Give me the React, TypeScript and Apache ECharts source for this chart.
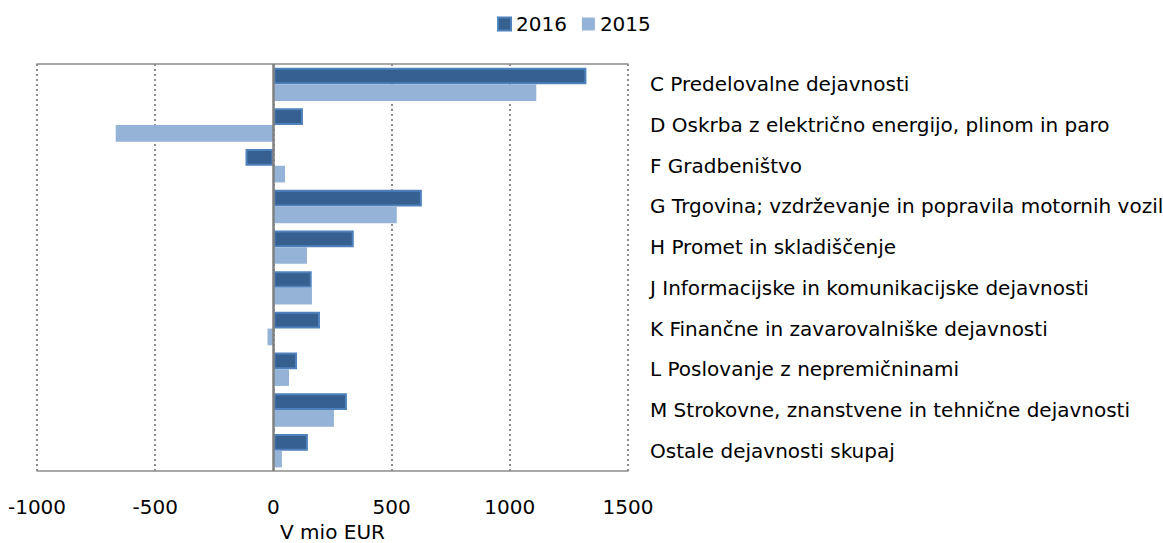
import React, { useEffect, useRef } from "react";
import * as echarts from "echarts";

const categories = [
  "C Predelovalne dejavnosti",
  "D Oskrba z električno energijo, plinom in paro",
  "F Gradbeništvo",
  "G Trgovina; vzdrževanje in popravila motornih vozil",
  "H Promet in skladiščenje",
  "J Informacijske in komunikacijske dejavnosti",
  "K Finančne in zavarovalniške dejavnosti",
  "L Poslovanje z nepremičninami",
  "M Strokovne, znanstvene in tehnične dejavnosti",
  "Ostale dejavnosti skupaj",
];
const values2016 = [1324, 125, -118, 628, 340, 162, 197, 100, 311, 146];
const values2015 = [1112, -667, 49, 522, 142, 163, -25, 66, 256, 36];
const xTicks = { min: -1000, max: 1500, interval: 500 };
const axisName = "V mio EUR";

const FONT = "'DejaVu Sans', sans-serif";

export default function App() {
  const ref = useRef<HTMLDivElement>(null);
  useEffect(() => {
    document.body.style.margin = "0";
    const chart = echarts.init(ref.current!, null, { renderer: "svg" });
    chart.setOption({
      animation: false,
      textStyle: { fontFamily: FONT, color: "#000" },
      legend: {
        top: 9,
        left: 492,
        itemWidth: 13,
        itemHeight: 13,
        itemGap: 15,
        icon: "rect",
        textStyle: { fontSize: 20, color: "#000", fontFamily: FONT },
        data: ["2016", "2015"],
      },
      grid: { left: 37, right: 535, top: 64, bottom: 72, outerBoundsMode: "none" },
      xAxis: [
        {
          type: "value",
          min: xTicks.min,
          max: xTicks.max,
          interval: xTicks.interval,
          position: "bottom",
          axisLine: { show: true, onZero: false, lineStyle: { color: "#8c8c8c", width: 1.5 } },
          axisTick: { show: false },
          axisLabel: {
            fontSize: 20,
            color: "#000",
            margin: 26,
            fontFamily: FONT,
            formatter: (v: number) => String(v),
          },
          splitLine: { show: true, lineStyle: { color: "#8c8c8c", type: [2, 3], width: 2 } },
          name: axisName,
          nameLocation: "middle",
          nameGap: 51,
          nameTextStyle: { fontSize: 20, color: "#000", fontFamily: FONT },
        },
        {
          type: "value",
          min: xTicks.min,
          max: xTicks.max,
          interval: xTicks.interval,
          position: "top",
          axisLine: { show: true, onZero: false, lineStyle: { color: "#8c8c8c", width: 1.5 } },
          axisTick: { show: false },
          axisLabel: { show: false },
          splitLine: { show: false },
        },
      ],
      yAxis: {
        type: "category",
        data: categories,
        inverse: true,
        position: "right",
        axisLine: { show: false, onZero: false },
        axisTick: { show: false },
        axisLabel: { fontSize: 20, color: "#000", margin: 22, fontFamily: FONT, align: "left" },
      },
      series: [
        {
          name: "2016",
          type: "bar",
          data: values2016,
          barGap: "0%",
          barCategoryGap: "18%",
          itemStyle: { color: "#36608F", borderColor: "#4F81BD", borderWidth: 2 },
          markLine: {
            silent: true,
            symbol: "none",
            label: { show: false },
            lineStyle: { color: "#808080", type: "solid", width: 2.5 },
            data: [{ xAxis: 0 }],
          },
        },
        {
          name: "2015",
          type: "bar",
          data: values2015,
          barGap: "0%",
          barCategoryGap: "18%",
          itemStyle: { color: "#95B3D7" },
        },
      ],
    });
    return () => chart.dispose();
  }, []);
  return (
    <div
      ref={ref}
      style={{ position: "absolute", left: 0, top: 0, width: 1163, height: 543 }}
    />
  );
}
